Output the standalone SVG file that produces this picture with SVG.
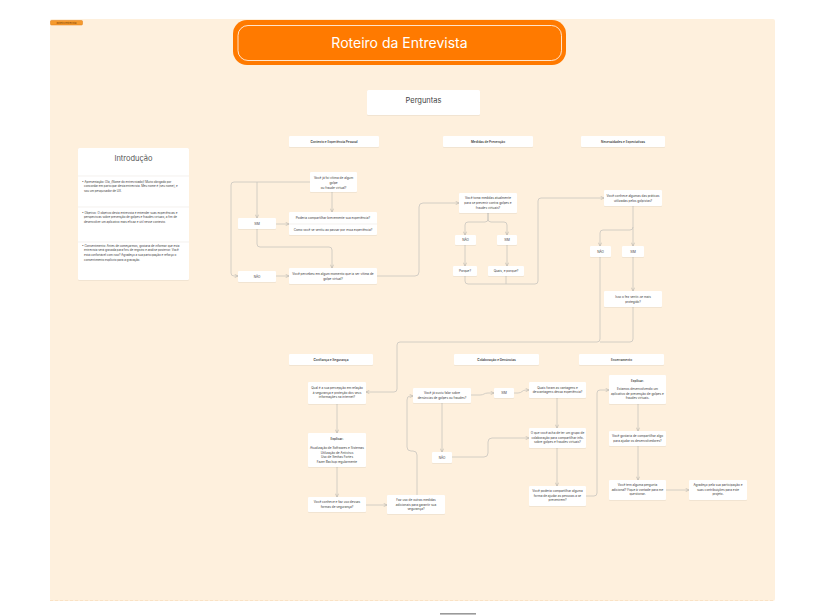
<svg xmlns="http://www.w3.org/2000/svg" width="838" height="615" viewBox="0 0 838 615">
<defs>
<style>
text{font-family:Inter,"Liberation Sans","DejaVu Sans",sans-serif;fill:#3a3a3a}
.b{fill:#fff;filter:url(#sh)}
.t{font-size:3.1px;text-anchor:middle}
.h{font-size:3.1px;text-anchor:middle;font-weight:600}
.it{font-size:2.9px}
.c{fill:none;stroke:#c9c5bf;stroke-width:0.8;stroke-linejoin:round}
.a{marker-end:url(#ah)}
.sep{stroke:#ece8e2;stroke-width:0.6}
</style>
<filter id="sh" x="-10%" y="-10%" width="120%" height="130%">
<feDropShadow dx="0" dy="0.5" stdDeviation="0.5" flood-color="#000" flood-opacity="0.10"/>
</filter>
<marker id="ah" viewBox="0 0 6 6" refX="5.5" refY="3" markerWidth="4" markerHeight="4" orient="auto" markerUnits="userSpaceOnUse">
<path d="M0.5,0.5 L5.5,3 L0.5,5.5" fill="none" stroke="#b9b4ad" stroke-width="0.9"/>
</marker>
</defs>

<rect x="50" y="19" width="725" height="582" rx="2" fill="#fef0dd"/>
<line x1="50" y1="600.5" x2="775" y2="600.5" stroke="#fbe2c4" stroke-width="1" stroke-dasharray="3,2"/>
<rect x="440" y="613" width="36" height="1.6" fill="#9a9a9a"/>

<g id="tag">
<rect x="50.5" y="20.5" width="32" height="4.5" rx="1" fill="#f59a2e" stroke="#e07b10" stroke-width="0.5"/>
<text x="66.5" y="23.8" style="font-size:2.4px;text-anchor:middle;fill:#7a3d00">Roteiro entrevista</text>
</g>

<g id="title">
<rect x="233" y="20" width="333" height="45" rx="14" fill="#ff7a00"/>
<rect x="238" y="25.5" width="323.5" height="35" rx="10" fill="none" stroke="#fff" stroke-width="0.8"/>
<text x="399.5" y="47.5" style="font-size:14px;text-anchor:middle;fill:#fff">Roteiro da Entrevista</text>
</g>

<g id="perguntas">
<rect class="b" x="367" y="90" width="113" height="25" rx="1.5"/>
<text x="423.5" y="102.8" style="font-size:7.5px;text-anchor:middle;fill:#444">Perguntas</text>
</g>

<g id="introducao">
<rect class="b" x="78" y="148" width="111" height="132" rx="1.5"/>
<text x="133.5" y="161" style="font-size:7.5px;text-anchor:middle;fill:#555">Introdução</text>
<line class="sep" x1="78" y1="176" x2="189" y2="176"/>
<line class="sep" x1="78" y1="207" x2="189" y2="207"/>
<line class="sep" x1="78" y1="242" x2="189" y2="242"/>
<text class="it" x="82" y="182.5">• Apresentação: Olá, [Nome do entrevistado]! Muito obrigado por</text>
<text class="it" x="84" y="187.3">concordar em participar desta entrevista. Meu nome é [seu nome], e</text>
<text class="it" x="84" y="192">sou um pesquisador de UX.</text>
<text class="it" x="82" y="213.5">• Objetivo: O objetivo desta entrevista é entender suas experiências e</text>
<text class="it" x="84" y="218.3">perspectivas sobre prevenção de golpes e fraudes virtuais, a fim de</text>
<text class="it" x="84" y="223">desenvolver um aplicativo mais eficaz e útil nesse contexto.</text>
<text class="it" x="82" y="246.5">• Consentimento: Antes de começarmos, gostaria de informar que esta</text>
<text class="it" x="84" y="251.3">entrevista será gravada para fins de registro e análise posterior. Você</text>
<text class="it" x="84" y="256">está confortável com isso? Agradeço a sua participação e reforço o</text>
<text class="it" x="84" y="260.8">consentimento explícito para a gravação.</text>
</g>

<g id="connectors">
<path class="c a" d="M310,182 H234 Q231,182 231,185 V273 Q231,276 234,276 H238"/>
<path class="c a" d="M257,182 V218"/>
<path class="c a" d="M332,192 V212"/>
<path class="c a" d="M276,224 H289"/>
<path class="c a" d="M257,229 V244 Q257,247 260,247 H329 Q332,247 332,250 V268"/>
<path class="c a" d="M276,276 H289"/>
<path class="c a" d="M377,276 H415 Q419,276 419,272 V207 Q419,203 423,203 H459"/>
<path class="c a" d="M488,213 V219 Q488,222 485,222 H468 Q465,222 465,225 V235"/>
<path class="c a" d="M488,213 V219 Q488,222 491,222 H504 Q507,222 507,225 V235"/>
<path class="c a" d="M465,245 V266"/>
<path class="c a" d="M507,245 V266"/>
<path class="c a" d="M465,276 V281 Q465,284 468,284 H535 Q538,284 538,281 V201 Q538,198 541,198 H604"/>
<path class="c" d="M506,276 V284"/>
<path class="c a" d="M633,206 V246"/>
<path class="c a" d="M633,227 Q633,230 630,230 H603 Q600,230 600,233 V246"/>
<path class="c a" d="M633,257 V291"/>
<path class="c a" d="M600,257 V339 Q600,342 597,342 H400 Q397,342 397,345 V389 Q397,392 394,392 H366"/>
<path class="c" d="M633,307 V339 Q633,342 630,342 H600"/>
<path class="c a" d="M337,404 V433"/>
<path class="c a" d="M337,467 V497"/>
<path class="c a" d="M366,505 H387"/>
<path class="c a" d="M417,495 V455 Q417,451 413,451 H411 Q407,451 407,447 V400 Q407,396 410,396 H413"/>
<path class="c a" d="M471,395 H480 C484,395 484,393 488,393 H494"/>
<path class="c a" d="M514,393 H518 C522,393 522,390 526,390 H529"/>
<path class="c a" d="M442,403 V452"/>
<path class="c a" d="M452,457 H484 Q488,457 488,453 V442 Q488,438 492,438 H529"/>
<path class="c a" d="M557,398 V428"/>
<path class="c a" d="M557,448 V486"/>
<path class="c a" d="M586,496 H594 Q597,496 597,493 V393 Q597,390 600,390 H609"/>
<path class="c a" d="M638,404 V431"/>
<path class="c a" d="M638,446 V480"/>
<path class="c a" d="M666,490 H689"/>
</g>

<g id="h-contexto"><rect class="b" x="289" y="136" width="90" height="11" rx="1"/><text class="h" x="334" y="142.8">Contexto e Experiência Pessoal</text></g>
<g id="h-medidas"><rect class="b" x="443" y="136" width="90" height="11" rx="1"/><text class="h" x="488" y="142.8">Medidas de Prevenção</text></g>
<g id="h-necessidades"><rect class="b" x="581" y="136" width="84" height="11" rx="1"/><text class="h" x="623" y="142.8">Necessidades e Expectativas</text></g>
<g id="h-confianca"><rect class="b" x="289" y="354" width="84" height="11" rx="1"/><text class="h" x="331" y="360.8">Confiança e Segurança</text></g>
<g id="h-colaboracao"><rect class="b" x="454" y="354" width="85" height="11" rx="1"/><text class="h" x="496.5" y="360.8">Colaboração e Denúncias</text></g>
<g id="h-encerramento"><rect class="b" x="579" y="354" width="85" height="11" rx="1"/><text class="h" x="621.5" y="360.8">Encerramento</text></g>

<g id="q1"><rect class="b" x="310" y="172" width="47" height="20" rx="1"/>
<text class="t" x="333.5" y="179">Você já foi vítima de algum</text>
<text class="t" x="333.5" y="183.8">golpe</text>
<text class="t" x="333.5" y="188.6">ou fraude virtual?</text></g>
<g id="sim1"><rect class="b" x="238" y="218" width="38" height="11" rx="1"/><text class="t" x="257" y="224.8">SIM</text></g>
<g id="nao1"><rect class="b" x="238" y="271" width="38" height="11" rx="1"/><text class="t" x="257" y="277.6">NÃO</text></g>
<g id="experiencia"><rect class="b" x="289" y="212" width="88" height="23" rx="1"/>
<line class="sep" x1="289" y1="224" x2="377" y2="224"/>
<text class="t" x="333" y="219.3">Poderia compartilhar brevemente sua experiência?</text>
<text class="t" x="333" y="231">Como você se sentiu ao passar por essa experiência?</text></g>
<g id="q2"><rect class="b" x="289" y="268" width="88" height="16" rx="1"/>
<text class="t" x="333" y="275">Você percebeu em algum momento que ia ser vítima de</text>
<text class="t" x="333" y="280">golpe virtual?</text></g>

<g id="q3"><rect class="b" x="459" y="193" width="58" height="20" rx="1"/>
<text class="t" x="488" y="199">Você toma medidas atualmente</text>
<text class="t" x="488" y="203.8">para se prevenir contra golpes e</text>
<text class="t" x="488" y="208.6">fraudes virtuais?</text></g>
<g id="nao2"><rect class="b" x="455" y="235" width="21" height="10" rx="1"/><text class="t" x="465.5" y="241.2">NÃO</text></g>
<g id="sim2"><rect class="b" x="497" y="235" width="20" height="10" rx="1"/><text class="t" x="507" y="241.2">SIM</text></g>
<g id="porque"><rect class="b" x="453" y="266" width="24" height="10" rx="1"/><text class="t" x="465" y="272.2">Porque?</text></g>
<g id="quais"><rect class="b" x="488" y="266" width="36" height="10" rx="1"/><text class="t" x="506" y="272.2">Quais, e porque?</text></g>

<g id="q4"><rect class="b" x="604" y="190" width="58" height="16" rx="1"/>
<text class="t" x="633" y="197">Você conhece algumas das práticas</text>
<text class="t" x="633" y="201.6">utilizadas pelos golpistas?</text></g>
<g id="nao3"><rect class="b" x="590" y="246" width="21" height="11" rx="1"/><text class="t" x="600.5" y="252.6">NÃO</text></g>
<g id="sim3"><rect class="b" x="622" y="246" width="22" height="11" rx="1"/><text class="t" x="633" y="252.6">SIM</text></g>
<g id="isso"><rect class="b" x="604" y="291" width="58" height="16" rx="1"/>
<text class="t" x="633" y="298">Isso o fez sentir-se mais</text>
<text class="t" x="633" y="302.6">protegido?</text></g>

<g id="q5"><rect class="b" x="308" y="382" width="58" height="22" rx="1"/>
<text class="t" x="337" y="389">Qual é a sua percepção em relação</text>
<text class="t" x="337" y="393.7">à segurança e proteção dos seus</text>
<text class="t" x="337" y="398.4">informações na internet?</text></g>
<g id="explicar1"><rect class="b" x="308" y="433" width="58" height="34" rx="1"/>
<text class="h" x="337" y="440">Explicar:</text>
<text class="t" x="337" y="449">Atualização de Softwares e Sistemas</text>
<text class="t" x="337" y="453.6">Utilização de Antivírus</text>
<text class="t" x="337" y="458.2">Uso de Senhas Fortes</text>
<text class="t" x="337" y="462.8">Fazer Backup regularmente</text></g>
<g id="q6"><rect class="b" x="308" y="497" width="58" height="15" rx="1"/>
<text class="t" x="337" y="503.2">Você conhece e faz uso dessas</text>
<text class="t" x="337" y="507.9">formas de segurança?</text></g>
<g id="q7"><rect class="b" x="387" y="495" width="58" height="19" rx="1"/>
<text class="t" x="416" y="501">Faz uso de outras medidas</text>
<text class="t" x="416" y="505.7">adicionais para garantir sua</text>
<text class="t" x="416" y="510.4">segurança?</text></g>

<g id="q8"><rect class="b" x="413" y="388" width="58" height="15" rx="1"/>
<text class="t" x="442" y="394.2">Você já ouviu falar sobre</text>
<text class="t" x="442" y="398.9">denúncias de golpes ou fraudes?</text></g>
<g id="sim4"><rect class="b" x="494" y="388" width="20" height="10" rx="1"/><text class="t" x="504" y="394.2">SIM</text></g>
<g id="nao4"><rect class="b" x="432" y="452" width="20" height="11" rx="1"/><text class="t" x="442" y="458.6">NÃO</text></g>
<g id="q9"><rect class="b" x="529" y="382" width="57" height="16" rx="1"/>
<text class="t" x="557.5" y="388.5">Quais foram as vantagens e</text>
<text class="t" x="557.5" y="393.2">desvantagens dessa experiência?</text></g>
<g id="q10"><rect class="b" x="529" y="428" width="57" height="20" rx="1"/>
<text class="t" x="557.5" y="434">O que você acha de ter um grupo de</text>
<text class="t" x="557.5" y="438.7">colaboração para compartilhar info.</text>
<text class="t" x="557.5" y="443.4">sobre golpes e fraudes virtuais?</text></g>
<g id="q11"><rect class="b" x="529" y="486" width="57" height="20" rx="1"/>
<text class="t" x="557.5" y="492">Você poderia compartilhar alguma</text>
<text class="t" x="557.5" y="496.7">forma de ajudar as pessoas a se</text>
<text class="t" x="557.5" y="501.4">prevenirem?</text></g>

<g id="explicar2"><rect class="b" x="609" y="375" width="57" height="29" rx="1"/>
<text class="h" x="637.5" y="381.5">Explicar:</text>
<text class="t" x="637.5" y="390">Estamos desenvolvendo um</text>
<text class="t" x="637.5" y="394.7">aplicativo de prevenção de golpes e</text>
<text class="t" x="637.5" y="399.4">fraudes virtuais.</text></g>
<g id="q12"><rect class="b" x="609" y="431" width="57" height="15" rx="1"/>
<text class="t" x="637.5" y="437.2">Você gostaria de compartilhar algo</text>
<text class="t" x="637.5" y="441.9">para ajudar os desenvolvedores?</text></g>
<g id="q13"><rect class="b" x="609" y="480" width="57" height="20" rx="1"/>
<text class="t" x="637.5" y="486">Você tem alguma pergunta</text>
<text class="t" x="637.5" y="490.7">adicional? Fique à vontade para me</text>
<text class="t" x="637.5" y="495.4">questionar.</text></g>
<g id="agradeco"><rect class="b" x="689" y="480" width="58" height="20" rx="1"/>
<text class="t" x="718" y="486">Agradeço pela sua participação e</text>
<text class="t" x="718" y="490.7">suas contribuições para este</text>
<text class="t" x="718" y="495.4">projeto.</text></g>
</svg>
